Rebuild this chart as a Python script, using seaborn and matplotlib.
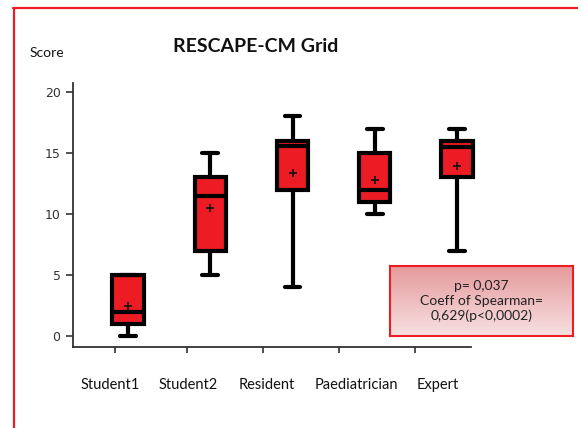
import numpy as np
import pandas as pd
import seaborn as sns
import matplotlib.pyplot as plt
from matplotlib.lines import Line2D

# values
groups = ['Student1', 'Student2', 'Resident', 'Paediatrician', 'Expert']
mins = [0, 5, 4, 10, 7]
q1s = [1, 7, 12, 11, 13]
medians = [2, 11.5, 15.6, 12, 15.5]
q3s = [5, 13, 16, 15, 16]
maxs = [5, 15, 18, 17, 17]
means = [2.5, 10.5, 13.4, 12.8, 13.9]
yticks = [0, 5, 10, 15, 20]

# five summary values per group -> boxplot quartiles come out exactly
rows = []
for g, a, b, c, d, e in zip(groups, mins, q1s, medians, q3s, maxs):
    for v in (a, b, c, d, e):
        rows.append({'group': g, 'score': v})
df = pd.DataFrame(rows)
mean_df = pd.DataFrame({'group': groups, 'score': means})

sns.set_style('white')
plt.rcParams['font.family'] = ['Lato', 'DejaVu Sans']

fig = plt.figure(figsize=(5.78, 4.28), dpi=100)
ax = fig.add_axes([73 / 578, 81 / 428, 398 / 578, 264 / 428])

sns.boxplot(data=df, x='group', y='score', order=groups, whis=(0, 100),
            width=0.38, color='#ED1C24', linecolor='black', linewidth=3,
            saturation=1, ax=ax)
sns.pointplot(data=mean_df, x='group', y='score', order=groups,
              linestyle='none', marker='+', markersize=6, markeredgewidth=1.2,
              color='#111111', errorbar=None, ax=ax)
for art in ax.lines + ax.patches:
    art.set_clip_on(False)

ax.set_xlim(-0.669, 4.17)
ax.set_ylim(-0.9, 20.74)
sns.despine(ax=ax)
for s in ['left', 'bottom']:
    ax.spines[s].set_color('#333333')
    ax.spines[s].set_linewidth(1.3)

# tick marks and labels sit a bit apart from the boxes in the original
ax.set_xticks([-0.158, 0.717, 1.641, 2.565, 3.489])
ax.set_xticklabels([])
ax.set_xticks([-0.219, 0.729, 1.690, 2.772, 3.769], minor=True)
ax.set_xticklabels(groups, minor=True, fontsize=10.5, color='#111111')
ax.tick_params(axis='x', which='major', bottom=True, length=4, width=1.2,
               color='#333333', direction='out')
ax.tick_params(axis='x', which='minor', length=0, pad=22)

ax.set_yticks(yticks)
ax.set_yticklabels([str(t) for t in yticks], family='DejaVu Sans',
                   fontsize=9, color='#333333')
ax.tick_params(axis='y', left=True, length=5, width=1.2, color='#333333',
               direction='out', pad=4)
ax.set_xlabel('')
ax.set_ylabel('')

fig.text(256 / 578, 1 - 47 / 428, 'RESCAPE-CM Grid', ha='center', va='center',
         fontsize=14, fontweight='bold', color='#111111')
fig.text(47 / 578, 1 - 53 / 428, 'Score', ha='center', va='center',
         fontsize=10, color='#111111')

# gradient note box
bx = fig.add_axes([390 / 578, 92 / 428, 183 / 578, 70 / 428])
grad = np.linspace(0, 1, 100).reshape(-1, 1)
bx.imshow(grad, aspect='auto', cmap=sns.blend_palette(['#E69A9D', '#F7E1E1'], as_cmap=True),
          extent=[0, 1, 0, 1])
bx.set_xticks([])
bx.set_yticks([])
for s in bx.spines.values():
    s.set_color('#EE1D25')
    s.set_linewidth(1.5)
bx.text(0.5, 0.5, 'p= 0,037\nCoeff of Spearman=\n0,629(p<0,0002)',
        ha='center', va='center', fontsize=10, color='#222222',
        linespacing=1.25, transform=bx.transAxes)

# red frame around the picture (left and top edges visible)
fig.add_artist(Line2D([13.5 / 578, 13.5 / 578], [0, 1 - 8 / 428],
                      color='#EE1D25', linewidth=1.6, transform=fig.transFigure))
fig.add_artist(Line2D([13 / 578, 1], [1 - 8 / 428, 1 - 8 / 428],
                      color='#EE1D25', linewidth=1.6, transform=fig.transFigure))

fig.savefig('out.png', dpi=100)
